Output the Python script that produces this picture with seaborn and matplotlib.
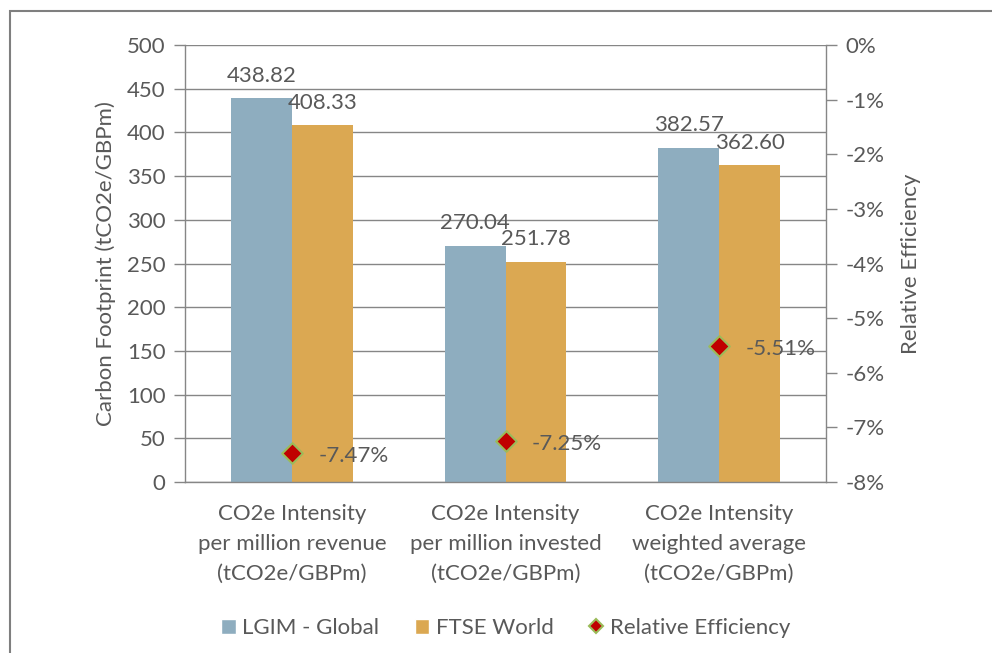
import numpy as np
import pandas as pd
import matplotlib.pyplot as plt
import seaborn as sns
from matplotlib.lines import Line2D
from matplotlib.patches import Patch, Rectangle

categories = ["CO2e Intensity\nper million revenue\n(tCO2e/GBPm)",
              "CO2e Intensity\nper million invested\n(tCO2e/GBPm)",
              "CO2e Intensity\nweighted average\n(tCO2e/GBPm)"]
series = ["LGIM - Global", "FTSE World"]
lgim = [438.82, 270.04, 382.57]
ftse = [408.33, 251.78, 362.60]
efficiency = [-7.47, -7.25, -5.51]

colors = ["#8EADBF", "#DBA852"]
txt = "#595959"
grid_c = "#868686"
fs = 16

sns.set_theme(style="white")
plt.rcParams['font.family'] = ['Lato', 'DejaVu Sans']
plt.rcParams['font.size'] = fs

df = pd.DataFrame({
    "metric": categories * 2,
    "series": [series[0]] * 3 + [series[1]] * 3,
    "value": lgim + ftse,
})

fig = plt.figure(figsize=(9.92, 6.53), dpi=100)
ax = fig.add_axes([185 / 992, 1 - 482 / 653, (826 - 185) / 992, (482 - 45) / 653])

# bars for the two portfolios
sns.barplot(data=df, x="metric", y="value", hue="series", palette=colors,
            width=0.57, gap=0, saturation=1, linewidth=0, legend=False, ax=ax)
for cont in ax.containers:
    ax.bar_label(cont, labels=[f"{v:.2f}" for v in cont.datavalues],
                 padding=9, color=txt, fontsize=fs)

ax.set_ylim(0, 500)
ax.set_xlim(-0.5, 2.5)
ax.set_yticks(np.arange(0, 501, 50))
ax.yaxis.grid(True, color=grid_c, lw=1)
ax.set_axisbelow(True)
ax.set_xlabel("")
ax.set_ylabel("Carbon Footprint (tCO2e/GBPm)", color=txt, fontsize=fs, labelpad=8)
ax.set_xticks(np.arange(len(categories)))
ax.set_xticklabels(categories, color=txt, fontsize=fs, linespacing=1.6)
ax.tick_params(axis="x", length=0, pad=16)
ax.set_xticks([-0.5, 0.5, 1.5, 2.5], minor=True)
ax.tick_params(axis="x", which="minor", length=8, color=grid_c, width=1, direction="out")
ax.tick_params(axis="y", length=8, color=grid_c, width=1, direction="out", colors=txt,
               labelsize=fs, pad=6)
for s in ["left", "bottom"]:
    ax.spines[s].set_color(grid_c)
    ax.spines[s].set_linewidth(1)
ax.spines["top"].set_visible(False)
ax.spines["right"].set_visible(False)

# relative efficiency on secondary axis
ax2 = ax.twinx()
sns.scatterplot(x=np.arange(len(categories)), y=efficiency, marker="D", s=110,
                color="#C00000", edgecolor="#9BBB59", linewidth=1.5, zorder=5, ax=ax2)
for i, v in enumerate(efficiency):
    ax2.annotate(f"{v:.2f}%", (i, v), xytext=(19, -2), textcoords="offset points",
                 ha="left", va="center", color=txt, fontsize=fs)
ax2.set_ylim(-8, 0)
ax2.set_yticks(np.arange(-8, 1, 1))
ax2.set_yticklabels([f"{t}%" for t in range(-8, 1)])
ax2.tick_params(axis="y", length=8, color=grid_c, width=1, direction="out", colors=txt,
                labelsize=fs, pad=6)
ax2.set_ylabel("Relative Efficiency", color=txt, fontsize=fs, rotation=90, labelpad=12)
for s in ["left", "top", "bottom"]:
    ax2.spines[s].set_visible(False)
ax2.spines["right"].set_color(grid_c)
ax2.spines["right"].set_linewidth(1)

handles = [Patch(facecolor=colors[0], label=series[0]),
           Patch(facecolor=colors[1], label=series[1]),
           Line2D([], [], marker="D", linestyle="none", markersize=7,
                  markerfacecolor="#C00000", markeredgecolor="#9BBB59",
                  markeredgewidth=1.5, label="Relative Efficiency")]
leg = fig.legend(handles=handles, loc="center", bbox_to_anchor=(0.51, 1 - 628 / 653),
                 ncol=3, frameon=False, fontsize=fs, handlelength=0.64, handleheight=0.64,
                 handletextpad=0.3, columnspacing=1.6)
for t in leg.get_texts():
    t.set_color(txt)

# outer chart border (cut off on right and bottom)
fig.patches.append(Rectangle((10 / 992, -0.1), 1.2, 1.1 - 11 / 653,
                             transform=fig.transFigure, fill=False,
                             edgecolor="#7F7F7F", lw=1.5))

fig.savefig("out.png", dpi=100)
